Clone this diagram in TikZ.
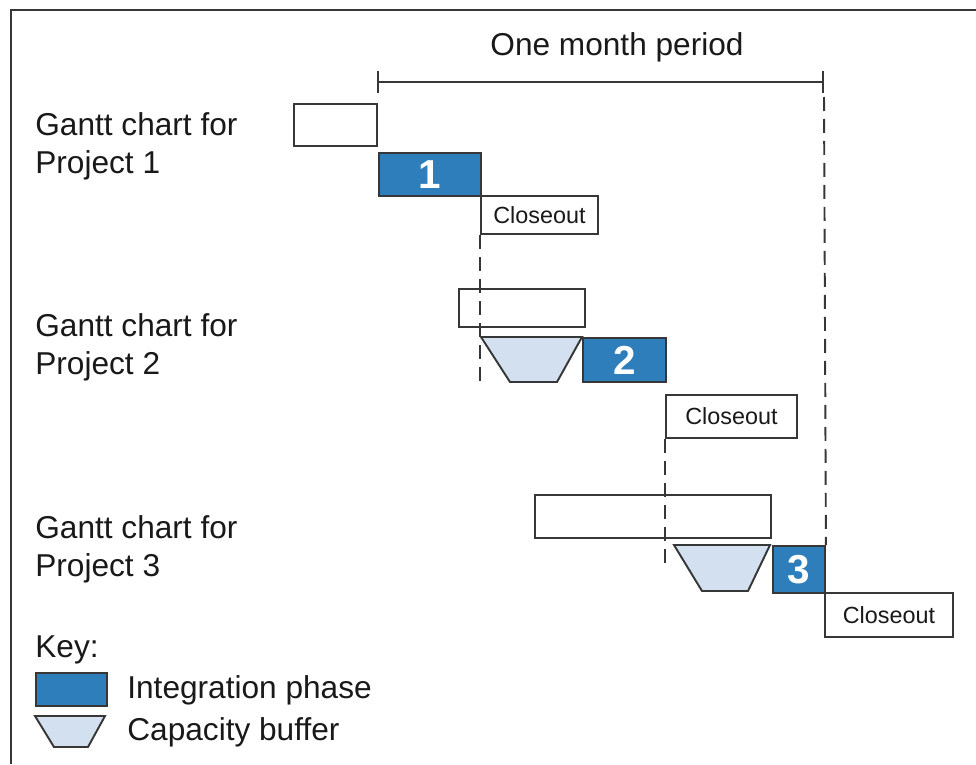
\documentclass[tikz,border=0pt]{standalone}
\usepackage{fontspec}
\setmainfont{Liberation Sans}
\usetikzlibrary{arrows.meta}

\definecolor{phaseblue}{RGB}{46,126,188}
\definecolor{bufferblue}{RGB}{211,224,240}
\definecolor{edgegray}{RGB}{55,55,55}

\begin{document}
\begin{tikzpicture}[x=0.02cm, y=-0.02cm,
  every node/.style={font=\fontsize{18}{21.5}\selectfont, text=black!90},
  bar/.style={draw=edgegray, line width=1.1pt, fill=white, inner sep=0pt, anchor=north west},
  phase/.style={bar, fill=phaseblue, text=white, font=\fontsize{23}{23}\selectfont\bfseries},
  closeout/.style={bar, font=\fontsize{13.3}{13.3}\selectfont},
  buffer/.style={draw=edgegray, line width=1.1pt, fill=bufferblue},
  guide/.style={draw=edgegray, line width=1.1pt, dash pattern=on 0.28cm off 0.16cm}]
\useasboundingbox (0,0) rectangle (976,764);
% Frame
\draw [edgegray, line width=1.7pt] (11,764) -- (11,10) -- (976,10);
% Period
\node (period) at (617,47) {One month period};
\coordinate (mstart) at (377,82);
\coordinate (mend) at (824,82);
\draw [edgegray, line width=1.1pt, {Bar[width=0.46cm]}-{Bar[width=0.46cm]}] (mstart) -- (mend);
% Project 1
\node [anchor=west, align=left, inner sep=0pt] (gantt1) at (35,146) {Gantt chart for\\Project 1};
\node [bar, minimum width=1.66cm, minimum height=0.84cm] (pre1) at (293,103) {};
\node [phase, minimum width=2.04cm, minimum height=0.86cm] (ph1) at (378,152) {1};
\node [closeout, minimum width=2.34cm, minimum height=0.76cm] (cl1) at (480,195) {Closeout};
% Project 2
\node [anchor=west, align=left, inner sep=0pt] (gantt2) at (35,347) {Gantt chart for\\Project 2};
\node [bar, minimum width=2.52cm, minimum height=0.76cm] (pre2) at (458,288) {};
\draw [buffer] (481,337) -- (582,337) -- (557,382) -- (510,382) -- cycle;
\node [phase, minimum width=1.66cm, minimum height=0.88cm] (ph2) at (582,337) {2};
\node [closeout, minimum width=2.62cm, minimum height=0.86cm] (cl2) at (665,394) {Closeout};
% Project 3
\node [anchor=west, align=left, inner sep=0pt] (gantt3) at (35,549) {Gantt chart for\\Project 3};
\node [bar, minimum width=4.72cm, minimum height=0.86cm] (pre3) at (534,494) {};
\draw [buffer] (674,545) -- (770,545) -- (748,591) -- (702,591) -- cycle;
\node [phase, minimum width=1.04cm, minimum height=0.94cm] (ph3) at (772,545) {3};
\node [closeout, minimum width=2.56cm, minimum height=0.88cm] (cl3) at (824,592) {Closeout};
% Guides
\coordinate (g1) at (480,385);
\coordinate (g2) at (665,567);
\coordinate (g3) at (824,97);
\draw [guide] (cl1.south west) -- (g1);
\draw [guide] (cl2.south west) -- (g2);
\draw [guide] (g3) -- (ph3.north east);
% Key
\node [anchor=west, inner sep=0pt] (key) at (35,650) {Key:};
\node [phase, minimum width=1.42cm, minimum height=0.66cm] (keyphase) at (35,672) {};
\draw [buffer] (35,716) -- (105,716) -- (88,747) -- (54,747) -- cycle;
\node [anchor=west, inner sep=0pt] (keyphasetext) at (127,690) {Integration phase};
\node [anchor=west, inner sep=0pt] (keybuffertext) at (127,732) {Capacity buffer};
\end{tikzpicture}
\end{document}
